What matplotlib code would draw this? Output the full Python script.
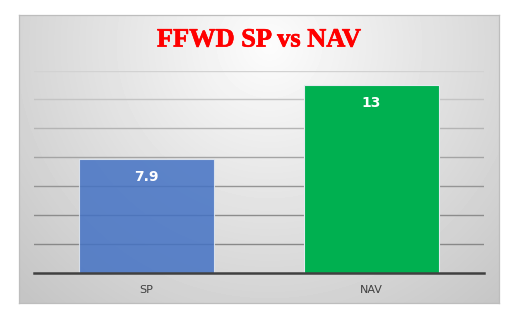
import numpy as np
import matplotlib.pyplot as plt
import matplotlib.patheffects as pe

categories = ['SP', 'NAV']
values = [7.9, 13]
colors = ['#4472C4', '#00B050']
alphas = [0.85, 1.0]
title = 'FFWD SP vs NAV'

W, H = 516, 325
fig = plt.figure(figsize=(W / 100, H / 100), dpi=100)
fig.patch.set_facecolor('white')

# chart area with a radial grey gradient
bg = fig.add_axes([19 / W, 1 - 303 / H, 480 / W, 288 / H])
yy, xx = np.mgrid[0:288, 0:480]
cx, cy = 250, 30
r = np.sqrt(((xx - cx) / 320) ** 2 + ((yy - cy) / 320) ** 2)
shade = np.clip(0.99 - 0.2 * r, 0.77, 1.0)
bg.imshow(shade, cmap='gray', vmin=0, vmax=1, aspect='auto', interpolation='bilinear')
bg.set_xticks([])
bg.set_yticks([])
for s in bg.spines.values():
    s.set_color('#BDBDBD')
    s.set_linewidth(0.9)

ax = fig.add_axes([34 / W, 1 - 272.5 / H, 450 / W, 202 / H])
ax.patch.set_alpha(0)
x = np.arange(len(categories))
ax.set_xlim(-0.5, 1.5)
ax.set_ylim(0, 14)

# gridlines fade out towards the top
grid_vals = np.arange(2, 15, 2)
grid_cols = ['#888888', '#8C8C8C', '#959595', '#A4A4A4', '#B4B4B4', '#C4C4C4', '#D2D2D2']
for gv, gc in zip(grid_vals, grid_cols):
    ax.axhline(gv, color=gc, linewidth=1.0, zorder=1)

bars = ax.bar(x, values, width=0.6, color=colors, edgecolor='#E4EAF0', linewidth=0.8, zorder=3)
for b, a in zip(bars, alphas):
    b.set_alpha(a)
    b.set_edgecolor('#E4EAF0')

ax.set_yticks([])
ax.tick_params(axis='x', length=0, pad=9, labelsize=8, labelcolor='#404040')
ax.set_xticks(x)
ax.set_xticklabels(categories)
for s in ['top', 'right', 'left']:
    ax.spines[s].set_visible(False)
ax.spines['bottom'].set_color('#404040')
ax.spines['bottom'].set_linewidth(1.8)
ax.spines['bottom'].set_zorder(4)

for b, v in zip(bars, values):
    ax.annotate(f'{v:g}', (b.get_x() + b.get_width() / 2, v), xytext=(0, -8),
                textcoords='offset points', ha='center', va='top',
                color='white', fontsize=10, fontweight='bold', zorder=5)

fig.text(259 / W, 1 - 40 / H, title, ha='center', va='center', color='#FF0000',
         fontsize=19, fontweight='bold', family='Liberation Serif',
         path_effects=[pe.withStroke(linewidth=0.5, foreground='#FF0000')])

fig.savefig('out.png', dpi=100)
